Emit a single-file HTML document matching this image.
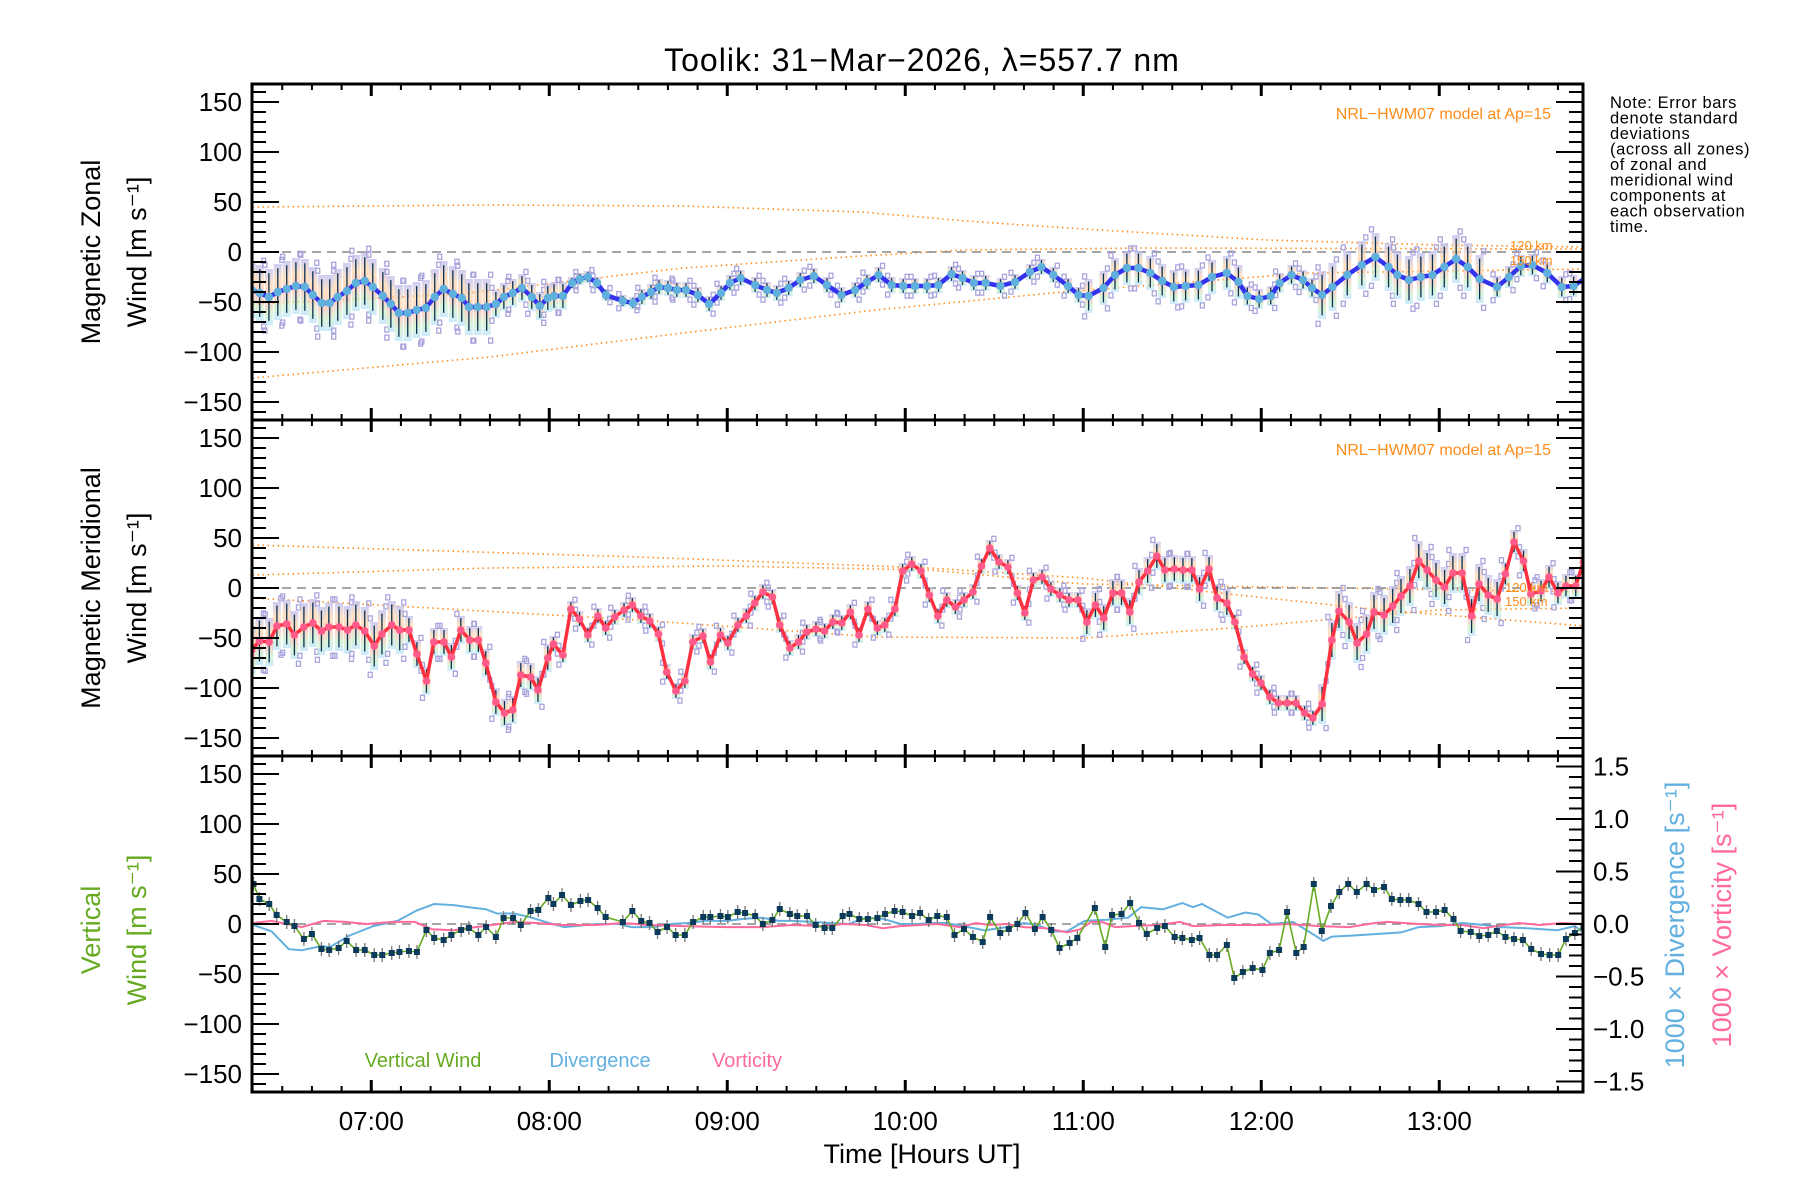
<!DOCTYPE html>
<html><head><meta charset="utf-8"><style>
html,body{margin:0;padding:0;background:#fff;}
svg{display:block;font-family:"Liberation Sans",sans-serif;}
</style></head><body>
<svg id="chart" width="1800" height="1200" viewBox="0 0 1800 1200" xmlns="http://www.w3.org/2000/svg">
<defs>
<linearGradient id="eg" x1="0" y1="0" x2="0" y2="1">
<stop offset="0" stop-color="#b8b8f0"/><stop offset="0.3" stop-color="#ffd6a8"/><stop offset="0.55" stop-color="#ffb8b0"/><stop offset="0.8" stop-color="#c8f0c8"/><stop offset="1" stop-color="#b8e0ff"/>
</linearGradient>
<clipPath id="c1"><rect x="252" y="84" width="1331" height="336"/></clipPath>
<clipPath id="c2"><rect x="252" y="420" width="1331" height="336"/></clipPath>
<clipPath id="c3"><rect x="252" y="756" width="1331" height="336"/></clipPath>
</defs>
<text x="922" y="71" font-size="32" text-anchor="middle" letter-spacing="1">Toolik: 31−Mar−2026, λ=557.7 nm</text>
<text font-size="16.5" letter-spacing="0.6" x="1610">
<tspan x="1610" y="108">Note: Error bars</tspan><tspan x="1610" y="123.5">denote standard</tspan><tspan x="1610" y="139">deviations</tspan><tspan x="1610" y="154.5">(across all zones)</tspan><tspan x="1610" y="170">of zonal and</tspan><tspan x="1610" y="185.5">meridional wind</tspan><tspan x="1610" y="201">components at</tspan><tspan x="1610" y="216.5">each observation</tspan><tspan x="1610" y="232">time.</tspan>
</text>
<g id="layer"></g>
</svg>
<script>
// ---- data (time in minutes after 06:00 UT) ----
const hourTicks = ["07:00","08:00","09:00","10:00","11:00","12:00","13:00"];
const windTicks = [150,100,50,0,-50,-100,-150];
const rightTicks = [1.5,1.0,0.5,0.0,-0.5,-1.0,-1.5];

const zonalT = [19.7,22.4,25.5,28.5,31.5,34.6,37.6,40.3,43.3,46.0,48.7,51.8,54.8,57.8,60.5,63.9,66.6,69.3,72.3,75.3,78.4,81.4,84.4,87.5,90.5,92.9,95.9,98.9,102.0,104.7,107.7,110.8,114.1,116.8,119.5,121.6,124.6,127.7,130.3,133.0,136.1,139.1,144.8,148.2,151.2,154.3,157.0,160.0,163.0,166.1,170.1,173.9,177.9,180.9,184.5,189.4,193.4,196.7,200.7,204.6,209.2,213.6,218.5,223.1,227.1,231.0,235.4,239.3,243.3,247.3,251.2,255.6,259.3,263.1,267.1,272.1,277.0,282.0,285.9,289.9,294.9,298.4,301.8,306.8,310.7,314.7,318.6,322.6,326.6,330.5,334.5,338.8,343.4,348.4,352.3,355.3,359.3,363.2,366.2,370.2,374.1,377.1,380.5,384.0,389.0,393.9,398.5,402.9,405.9,409.8,413.8,417.7,421.7,425.7,429.6,433.6,439.5,443.5,447.5,451.4,456.4,461.3,465.3,469.2];
const zonalV = [-38,-41,-45,-40,-37,-34,-35,-43,-51,-51,-45,-39,-31,-29,-35,-44,-52,-61,-61,-58,-56,-45,-37,-42,-46,-55,-55,-55,-52,-45,-41,-36,-45,-54,-46,-44,-44,-31,-27,-25,-31,-43,-49,-51,-45,-40,-35,-36,-38,-38,-43,-52,-41,-31,-26,-33,-38,-41,-36,-28,-24,-33,-43,-38,-30,-23,-33,-34,-34,-34,-33,-22,-26,-31,-31,-34,-30,-20,-15,-23,-34,-43,-44,-36,-23,-16,-16,-21,-29,-35,-34,-33,-25,-21,-30,-44,-47,-44,-31,-23,-28,-36,-43,-35,-23,-13,-5,-15,-23,-28,-25,-23,-15,-7,-15,-27,-35,-25,-14,-13,-21,-35,-34,-26];
const zonalSdStart = [0,100,125,150,300,355,380,435];
const zonalSd = [28,14,6,8,17,10,24,11];

const merT = [19.7,22.3,25.6,28.2,31.5,34.1,37.3,40.3,43.2,45.7,49.1,52.0,54.8,57.8,61.0,63.6,66.9,69.6,72.7,75.4,78.6,81.1,84.5,87.0,90.2,93.2,96.1,98.6,102.0,104.9,107.7,110.4,113.7,116.2,119.5,121.4,124.6,127.3,130.2,133.0,136.4,139.0,142.1,145.2,148.0,150.9,153.9,156.8,159.6,162.7,165.7,168.4,171.8,174.3,177.7,180.2,183.6,186.4,189.3,192.0,195.2,197.7,201.1,204.0,206.8,209.9,212.8,215.6,218.6,221.5,224.4,227.4,230.6,233.1,236.5,239.1,242.2,245.3,248.1,251.0,254.0,256.9,259.8,262.8,265.7,268.5,271.6,274.6,277.8,280.3,283.2,286.1,289.1,292.1,295.2,298.2,301.2,304.1,306.9,310.0,312.9,315.7,318.8,321.7,324.8,327.5,330.7,333.6,336.6,339.2,342.4,345.1,348.4,351.1,354.2,357.1,359.9,362.9,365.8,368.7,371.7,374.6,377.4,380.5,383.8,386.2,389.6,392.3,395.5,398.0,401.4,404.3,407.1,410.1,413.1,415.9,418.9,421.8,424.6,427.7,430.9,433.4,436.5,439.5,442.3,445.2,448.4,450.9,454.3,457.0,460.0,462.7,466.0,468.6];
const merV = [-62,-53,-54,-38,-36,-47,-39,-35,-43,-39,-39,-42,-37,-43,-58,-46,-37,-42,-42,-66,-93,-54,-54,-69,-42,-52,-52,-75,-114,-125,-122,-87,-89,-102,-70,-56,-67,-21,-31,-47,-28,-40,-29,-22,-17,-28,-33,-46,-84,-103,-93,-54,-48,-74,-47,-55,-37,-28,-15,-4,-9,-37,-60,-54,-44,-41,-43,-34,-35,-24,-47,-21,-40,-37,-21,17,24,17,-7,-28,-12,-19,-12,-4,22,40,26,21,-5,-25,8,11,-1,-7,-12,-12,-34,-17,-30,-5,-5,-24,6,17,32,18,19,18,18,-1,19,-10,-15,-34,-69,-86,-95,-109,-115,-115,-115,-125,-130,-116,-52,-23,-34,-55,-46,-24,-27,-18,-8,2,27,18,8,1,15,15,-28,4,-7,-11,14,46,27,-6,-3,11,-5,2,2,26];
const merSdStart = [0,70,120,300,350,380,440];
const merSd = [24,14,8,14,8,20,12];

const vertT = [20.3,22.3,25.6,28.1,31.5,34.1,37.3,40.0,43.2,45.8,49.0,51.7,54.9,57.8,61.0,63.7,66.9,69.5,72.7,75.4,78.6,81.2,84.4,87.0,90.3,92.9,96.1,98.7,102.0,104.6,107.8,110.4,113.7,116.3,119.7,121.4,124.3,127.3,130.5,133.1,136.3,139.0,144.8,148.0,151.0,153.8,156.5,159.7,162.6,165.7,168.5,171.9,174.3,177.7,180.2,183.5,186.0,189.4,192.0,195.2,197.7,201.1,203.6,206.9,209.8,212.8,215.4,218.9,221.2,224.5,227.4,230.6,233.2,236.4,239.1,242.3,245.0,247.9,250.8,254.0,256.6,259.8,262.8,266.1,268.6,272.0,274.9,277.8,280.5,283.7,286.3,289.2,292.0,295.4,298.0,303.9,307.4,309.7,312.9,315.8,318.8,321.4,324.9,327.5,330.8,333.4,336.6,339.2,342.5,345.1,348.4,350.9,353.8,357.1,360.4,362.9,366.0,368.7,371.8,374.3,377.7,380.4,383.5,386.3,389.3,392.2,395.5,398.0,401.4,404.0,406.9,409.7,413.0,415.7,418.9,421.8,424.8,427.2,430.6,433.5,436.5,439.4,442.3,445.2,448.2,451.0,454.3,457.2,460.1,462.7,465.7,468.6];
const vertV = [40,25,20,9,2,-2,-15,-10,-25,-26,-24,-17,-26,-26,-31,-31,-29,-28,-27,-28,-6,-14,-16,-11,-6,-4,-11,-3,-13,6,6,-1,13,14,26,20,29,19,23,24,16,7,2,13,3,1,-8,-3,-11,-11,2,7,7,8,7,12,11,8,0,4,15,10,8,8,-1,-4,-4,8,10,5,5,6,10,13,12,8,11,4,8,7,-11,-5,-13,-18,7,-9,-5,0,11,-5,7,-6,-24,-19,-14,16,-23,9,10,21,1,-10,-4,-2,-13,-14,-16,-14,-31,-31,-21,-54,-48,-44,-46,-29,-26,12,-29,-23,40,-7,18,32,40,32,40,34,37,25,24,24,20,12,12,14,5,-7,-8,-12,-11,-7,-13,-15,-16,-25,-30,-31,-31,-15,-9,-3];

const divT = [20.3,26.4,32.2,36.6,43.2,46.0,52.7,60.7,68.8,75.4,81.2,87.8,92.9,98.7,102.4,108.2,114.1,119.9,125.1,136.0,143.3,147.7,155.0,160.9,166.7,172.6,179.9,185.7,191.6,197.4,201.8,209.1,214.9,220.8,226.7,232.5,238.4,244.2,249.3,253.7,259.6,266.8,274.2,280.0,284.4,290.2,294.6,300.5,307.8,315.1,319.5,326.8,333.4,337.0,340.0,348.7,354.6,359.0,363.4,370.7,376.5,380.9,383.8,391.1,407.2,413.1,420.4,427.7,435.0,440.8,449.6,459.8,465.7,468.6];
const divV = [-0.01,-0.07,-0.24,-0.25,-0.21,-0.22,-0.11,-0.02,0.03,0.13,0.19,0.18,0.16,0.14,0.10,0.10,0.06,0.01,-0.03,0.00,0.00,-0.03,-0.03,0.00,0.01,0.03,0.03,0.05,0.06,0.03,0.03,0.02,0.01,0.00,0.06,0.05,0.00,0.00,0.01,0.01,-0.02,-0.06,-0.03,0.01,-0.01,-0.07,-0.07,0.03,0.04,0.06,0.16,0.14,0.20,0.16,0.19,0.06,0.11,0.09,0.00,0.02,-0.08,-0.16,-0.12,-0.11,-0.08,-0.03,-0.02,0.01,-0.01,-0.03,-0.04,-0.06,-0.02,-0.08];

const vortT = [20.3,26.4,36.6,43.9,51.2,58.5,67.3,74.6,80.5,87.8,95.1,100.9,108.2,115.6,124.3,136.0,144.8,153.6,165.2,179.9,191.6,201.8,212.0,219.3,226.7,232.5,238.4,250.8,258.1,263.9,268.3,274.2,280.0,287.3,294.6,299.0,302.7,306.3,310.7,316.6,325.3,332.6,337.0,347.3,361.9,369.2,379.5,389.6,398.4,402.8,413.1,420.4,427.7,435.0,439.4,446.7,454.0,461.3,468.6];
const vortV = [0.01,0.03,-0.03,0.03,0.02,0,0.02,0.02,-0.05,-0.06,-0.03,-0.01,0.02,0.01,-0.01,-0.01,0.01,-0.01,-0.02,-0.03,-0.03,-0.01,-0.02,0,-0.01,-0.04,-0.02,0,-0.03,0.01,-0.01,0,-0.03,-0.04,-0.08,-0.05,0.02,0.02,-0.03,-0.02,-0.01,0.02,-0.02,-0.01,-0.01,0,-0.02,-0.03,0.01,0.02,0,-0.01,-0.01,-0.04,-0.02,0.01,-0.01,0.01,0];

const zModelT1=[20,100,165,225,265,300,362,420,469], zModelV1=[45,47,46,40,30,23,12,7,5];
const zModelT2=[20,90,165,220,260,320,469], zModelV2=[-52,-42,-16,-5,2,4,3];
const zModelT3=[20,100,165,230,293,376,469], zModelV3=[-126,-105,-81,-58,-40,-21,-17];
const mModelT1=[20,150,248,300,346,400,469], mModelV1=[43,31,20,10,-5,-22,-38];
const mModelT2=[20,100,180,248,300,469], mModelV2=[13,20,22,18,4,-4];
const mModelT3=[20,80,150,230,300,350,420,469], mModelV3=[-10,-20,-32,-49,-50,-40,-22,-20];

// ---- layout ----
const NS="http://www.w3.org/2000/svg";
const X0=252, X1=1583, T0=19.8, PXMIN=178/60;
const tops=[84,420,756], PH=336;
function xs(t){return X0+(t-T0)*PXMIN;}
function ys(p,v){return tops[p]+PH/2-v;}
function yr(v){return tops[2]+PH/2-v*105;}
const layer=document.getElementById('layer');
function mk(tag,attrs,parent){const e=document.createElementNS(NS,tag);for(const k in attrs)e.setAttribute(k,attrs[k]);(parent||layer).appendChild(e);return e;}
function grp(name,clip){const g=mk('g',clip?{'clip-path':'url(#'+clip+')'}:{});


return g;}
function sdAt(t,st,sd){let s=sd[0];for(let i=0;i<st.length;i++)if(t>=st[i])s=sd[i];return s;}
function poly(T,V,yf,attrs,parent){let d='';const n=Math.min(T.length,V.length);for(let i=0;i<n;i++)d+=(i?'L':'M')+xs(T[i]).toFixed(1)+','+yf(V[i]).toFixed(1);attrs.d=d;attrs.fill='none';return mk('path',attrs,parent);}

// ---- model lines ----
const mg1=grp('zonal-model-lines','c1');
[[zModelT1,zModelV1],[zModelT2,zModelV2],[zModelT3,zModelV3]].forEach(a=>poly(a[0],a[1],v=>ys(0,v),{stroke:'#ff8c1a','stroke-width':1.6,'stroke-dasharray':'1.5 3.5'},mg1));
const mg2=grp('meridional-model-lines','c2');
[[mModelT1,mModelV1],[mModelT2,mModelV2],[mModelT3,mModelV3]].forEach(a=>poly(a[0],a[1],v=>ys(1,v),{stroke:'#ff8c1a','stroke-width':1.6,'stroke-dasharray':'1.5 3.5'},mg2));

// zero lines
[0,1].forEach(p=>{const z=mk('line',{x1:X0,x2:X1,y1:ys(p,0),y2:ys(p,0),stroke:'#888','stroke-width':1.5,'stroke-dasharray':'9 6'});

});
const z3=mk('line',{x1:X0,x2:X1,y1:ys(2,0),y2:ys(2,0),stroke:'#888','stroke-width':1.5,'stroke-dasharray':'9 6'});



// ---- error bars ----
function errBars(p,T,V,st,sd,name,clip){
  const g=grp(name,clip);
  const n=Math.min(T.length,V.length);
  for(let i=0;i<n;i++){
    const s=sdAt(T[i],st,sd), x=xs(T[i]), y1=ys(p,V[i]+s), y2=ys(p,V[i]-s);
    mk('rect',{x:x-4,y:y1,width:8,height:y2-y1,fill:'url(#eg)',opacity:0.7},g);
    mk('line',{x1:x,x2:x,y1:ys(p,V[i]+s*0.85),y2:ys(p,V[i]-s*0.85),stroke:'#0b2f4f','stroke-width':1.3},g);
    const off=(i%2?4:-4);
    [1.15,-1.2].forEach(f=>mk('rect',{x:x+off-2,y:ys(p,V[i]+s*f)-2.5,width:4,height:5,fill:'none',stroke:'#a9a4dc','stroke-width':1.3},g));
  }
}
errBars(0,zonalT,zonalV,zonalSdStart,zonalSd,'zonal-error-bars','c1');
errBars(1,merT,merV,merSdStart,merSd,'meridional-error-bars','c2');

// ---- series ----
const zg=grp('zonal-wind-series','c1');
poly(zonalT,zonalV,v=>ys(0,v),{stroke:'#3333ee','stroke-width':4.5,'stroke-linejoin':'round'},zg);
for(let i=0;i<zonalT.length;i++)mk('circle',{cx:xs(zonalT[i]),cy:ys(0,zonalV[i]),r:4.2,fill:'#5fb0dc'},zg);
const rg=grp('meridional-wind-series','c2');
poly(merT,merV,v=>ys(1,v),{stroke:'#ff3040','stroke-width':3.5,'stroke-linejoin':'round'},rg);
for(let i=0;i<Math.min(merT.length,merV.length);i++)mk('circle',{cx:xs(merT[i]),cy:ys(1,merV[i]),r:3.8,fill:'#ff5a8a'},rg);

const dg=grp('divergence-series','c3');
poly(divT,divV,yr,{stroke:'#63b0e0','stroke-width':2},dg);
const vg=grp('vorticity-series','c3');
poly(vortT,vortV,yr,{stroke:'#ff6a9a','stroke-width':2},vg);
const wg=grp('vertical-wind-series','c3');
for(let i=0;i<Math.min(vertT.length,vertV.length);i++){const x=xs(vertT[i]);mk('line',{x1:x,x2:x,y1:ys(2,vertV[i]+7),y2:ys(2,vertV[i]-7),stroke:'#777','stroke-width':1.3},wg);}
poly(vertT,vertV,v=>ys(2,v),{stroke:'#66aa22','stroke-width':1.6},wg);
for(let i=0;i<Math.min(vertT.length,vertV.length);i++)mk('rect',{x:xs(vertT[i])-3,y:ys(2,vertV[i])-3,width:6,height:6,fill:'#0b3a5a'},wg);

// ---- axes ----
const ax=grp('axes',null);
for(let p=0;p<3;p++){
  mk('rect',{x:X0,y:tops[p],width:X1-X0,height:PH,fill:'none',stroke:'#000','stroke-width':3},ax);
  for(let v=-160;v<=160;v+=10){const y=ys(p,v),L=(v%50===0)?27:14;
    mk('line',{x1:X0,x2:X0+L,y1:y,y2:y,stroke:'#000','stroke-width':2},ax);
    if(p<2)mk('line',{x1:X1,x2:X1-L,y1:y,y2:y,stroke:'#000','stroke-width':2},ax);}
  for(let m=20;m<=468;m+=10){const x=xs(m),L=(m%60===0)?12:6;
    mk('line',{x1:x,x2:x,y1:tops[p],y2:tops[p]+L,stroke:'#000','stroke-width':(m%60===0)?3:2},ax);
    mk('line',{x1:x,x2:x,y1:tops[p]+PH,y2:tops[p]+PH-L,stroke:'#000','stroke-width':(m%60===0)?3:2},ax);}
  windTicks.forEach(v=>{const t=mk('text',{x:242,y:ys(p,v)+9,'font-size':26,'text-anchor':'end'},ax);t.textContent=(v<0?'−':'')+Math.abs(v);
    
    });
}
for(let k=-16;k<=16;k++){const y=yr(k/10),L=(k%5===0)?27:14;mk('line',{x1:X1,x2:X1-L,y1:y,y2:y,stroke:'#000','stroke-width':2},ax);}
rightTicks.forEach(v=>{const t=mk('text',{x:1593,y:yr(v)+9,'font-size':26},ax);t.textContent=(v<0?'−':'')+Math.abs(v).toFixed(1);
  
  });
hourTicks.forEach((h,i)=>{const t=mk('text',{x:xs(60*(i+1)),y:1130,'font-size':26,'text-anchor':'middle'},ax);t.textContent=h;
  
  });

// ---- labels ----
function lbl(name,txt,x,y,opts){const t=mk('text',Object.assign({x:x,y:y},opts));t.textContent=txt;
  
  return t;}
lbl('x-axis-title','Time [Hours UT]',922,1163,{'font-size':27,'text-anchor':'middle'});
lbl('zonal-model-label','NRL−HWM07 model at Ap=15',1551,119,{'font-size':16,fill:'#ff8c1a','text-anchor':'end'});
lbl('meridional-model-label','NRL−HWM07 model at Ap=15',1551,455,{'font-size':16,fill:'#ff8c1a','text-anchor':'end'});
lbl('zonal-120km-label','120 km',1510,250,{'font-size':13,fill:'#ff8c1a'});
lbl('zonal-150km-label','150 km',1510,265,{'font-size':13,fill:'#ff8c1a'});
lbl('meridional-120km-label','120 km',1505,592,{'font-size':13,fill:'#ff8c1a'});
lbl('meridional-150km-label','150 km',1505,606,{'font-size':13,fill:'#ff8c1a'});
function rot(name,txt,x,y,col,size){const t=lbl(name,txt,x,y,{'font-size':size||27,'text-anchor':'middle',fill:col||'#000',transform:'rotate(-90 '+x+' '+y+')'});return t;}
rot('zonal-y-title-1','Magnetic Zonal',100,252);
rot('zonal-y-title-2','Wind [m s⁻¹]',146,252);
rot('meridional-y-title-1','Magnetic Meridional',100,588);
rot('meridional-y-title-2','Wind [m s⁻¹]',146,588);
rot('vertical-y-title-1','Vertical',100,930,'#66aa22');
rot('vertical-y-title-2','Wind [m s⁻¹]',146,930,'#66aa22');
rot('divergence-y-title','1000 × Divergence [s⁻¹]',1684,925,'#63b0e0');
rot('vorticity-y-title','1000 × Vorticity [s⁻¹]',1731,925,'#ff6a9a');
lbl('legend-vertical-wind','Vertical Wind',423,1067,{'font-size':20,fill:'#66aa22','text-anchor':'middle'});
lbl('legend-divergence','Divergence',600,1067,{'font-size':20,fill:'#63b0e0','text-anchor':'middle'});
lbl('legend-vorticity','Vorticity',747,1067,{'font-size':20,fill:'#ff6a9a','text-anchor':'middle'});
</script>
</body></html>
